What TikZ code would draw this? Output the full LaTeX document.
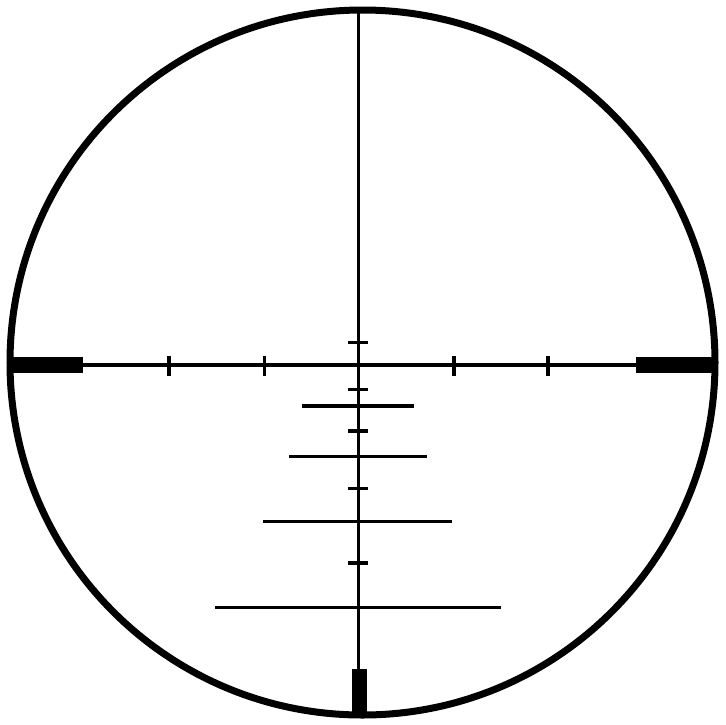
\documentclass[tikz,border=0pt]{standalone}
\usepackage{tikz}
\usetikzlibrary{calc}

\begin{document}
\begin{tikzpicture}[x=1pt,y=-1pt,
    rim/.style={line width=7pt},
    hair/.style={line width=3.3pt},
    tick/.style={line width=3.6pt},
    postbar/.style={fill=black}]
            \useasboundingbox (0,0) rectangle (726,724);
            \coordinate (c) at (362.5,362.5);
            \coordinate (x) at (358.5,365);
            \draw[rim] (c) circle (352.5);
            % crosshair
            \coordinate (L) at (83,365);
            \coordinate (R) at (636,365);
            \coordinate (T) at (358.5,10);
            \coordinate (B) at (358.5,669);
            \draw[hair] (L) -- (R);
            \draw[hair] (T) -- (B);
            % heavy posts
            \fill[postbar] (9,357) rectangle (L |- 0,373);
            \fill[postbar] (R |- 0,357) rectangle (716,373);
            \fill[postbar] (351.5,669) rectangle (366.5,715);
            % ticks on horizontal line
            \foreach \tx in {169,264.3,454,547.7}
                \draw[tick] (\tx,356) -- (\tx,376);
            % short dashes on vertical line
            \foreach \ty in {342.3,389.3,430.7,488.3,562.7}
                \draw[tick] (347.7,\ty) -- (368.3,\ty);
            % holdover bars
            \draw[hair] (302,406) -- (414.3,406);
            \draw[hair] (289,456.7) -- (426.7,456.7);
            \draw[hair] (263.3,521.7) -- (452.3,521.7);
            \draw[hair] (215,607.7) -- (501,607.7);
        \end{tikzpicture}
\end{document}
